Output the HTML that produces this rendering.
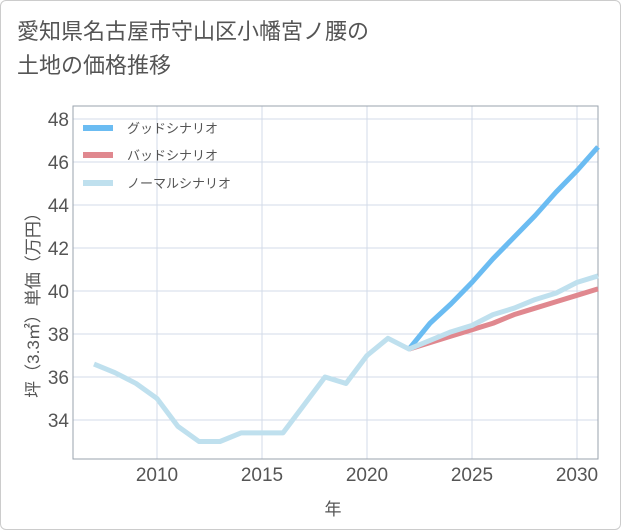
<!DOCTYPE html>
<html><head><meta charset="utf-8">
<style>
body{margin:0;background:#fff;}
#wrap{position:relative;width:619px;height:528px;border:1px solid #ccc;border-radius:6px;background:#fff;font-family:"Liberation Sans","Noto Sans CJK JP",sans-serif;}
#title{position:absolute;left:16px;top:14px;font-size:22px;line-height:34px;color:#555;}
svg{position:absolute;left:0;top:0;}
</style></head><body>
<div id="wrap">
<div id="title">愛知県名古屋市守山区小幡宮ノ腰の<br>土地の価格推移</div>
<svg id="chart" width="621" height="530"></svg>
</div>
<script>
const years=[2007,2008,2009,2010,2011,2012,2013,2014,2015,2016,2017,2018,2019,2020,2021,2022,2023,2024,2025,2026,2027,2028,2029,2030,2031];
const normalVals=[36.6,36.2,35.7,35.0,33.7,33.0,33.0,33.4,33.4,33.4,34.7,36.0,35.7,37.0,37.8,37.3,37.7,38.1,38.4,38.9,39.2,39.6,39.9,40.4,40.7];
const futureYears=[2022,2023,2024,2025,2026,2027,2028,2029,2030,2031];
const goodVals=[37.3,38.5,39.4,40.4,41.5,42.5,43.5,44.6,45.6,46.7];
const badVals=[37.3,37.6,37.9,38.2,38.5,38.9,39.2,39.5,39.8,40.1];
const yTicks=[34,36,38,40,42,44,46,48];
const xTicks=[2010,2015,2020,2025,2030];
const NS='http://www.w3.org/2000/svg';
const svg=document.getElementById('chart');
const L=72,R=597,T=105,B=458;
const x=v=>156+(v-2010)*21;
const y=v=>419-(v-34)*21.5;
function mk(t,a,p){const e=document.createElementNS(NS,t);for(const k in a)e.setAttribute(k,a[k]);(p||svg).appendChild(e);return e;}
const grid=mk('g',{});


yTicks.forEach(v=>{
 const l=mk('line',{x1:L,x2:R,y1:y(v),y2:y(v),stroke:'#d3dbe8','stroke-width':1},grid);
 
 
 const t=mk('text',{x:L-4,y:y(v)+7,'text-anchor':'end','font-size':19,fill:'#555'});
 t.textContent=v;
 
 
});
xTicks.forEach(v=>{
 const l=mk('line',{x1:x(v),x2:x(v),y1:T,y2:B,stroke:'#d3dbe8','stroke-width':1},grid);
 
 
 const t=mk('text',{x:x(v),y:B+22,'text-anchor':'middle','font-size':19,fill:'#555'});
 t.textContent=v;
 
 
});
const ax=mk('path',{d:`M${L},${T}V${B}H${R}V${T}Z`,fill:'none',stroke:'#9aa3ae','stroke-width':1});


function line(xs,vs,c,name){
 const p=mk('polyline',{points:xs.map((v,i)=>x(v)+','+y(vs[i])).join(' '),fill:'none',stroke:c,'stroke-width':5,'stroke-linejoin':'round'});
 
 
}
line(futureYears,goodVals,'#6bbcf2','good-scenario-line');
line(futureYears,badVals,'#e0888f','bad-scenario-line');
line(years,normalVals,'#bfe0ee','normal-scenario-line');
const leg=[['グッドシナリオ','#6bbcf2',127],['バッドシナリオ','#e0888f',154],['ノーマルシナリオ','#bfe0ee',182]];
leg.forEach(([n,c,yy])=>{
 const g=mk('g',{});
 
 
 mk('line',{x1:82,x2:112,y1:yy,y2:yy,stroke:c,'stroke-width':6},g);
 const t=mk('text',{x:126,y:yy+5,'font-size':13,fill:'#555'},g);
 t.textContent=n;
});
const yt=mk('text',{transform:'translate(38,300) rotate(-90)','text-anchor':'middle','font-size':17,fill:'#555'});
yt.textContent='坪（3.3㎡）単価（万円）';


const xt=mk('text',{x:332,y:514,'text-anchor':'middle','font-size':17,fill:'#555'});
xt.textContent='年';


</script>
</body></html>
